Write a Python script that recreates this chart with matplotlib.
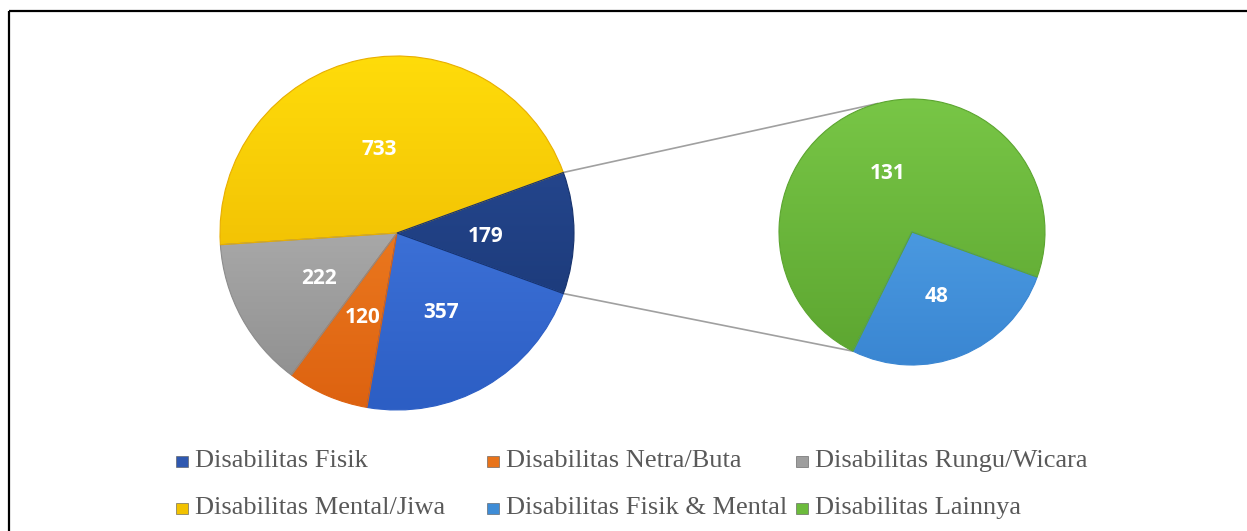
import numpy as np
import matplotlib
matplotlib.use("Agg")
import matplotlib.pyplot as plt
from matplotlib.colors import LinearSegmentedColormap
from matplotlib.patches import Rectangle

# ---------------- data ----------------
categories = ["Disabilitas Fisik", "Disabilitas Netra/Buta", "Disabilitas Rungu/Wicara",
              "Disabilitas Mental/Jiwa", "Disabilitas Fisik & Mental", "Disabilitas Lainnya"]
values = [357, 120, 222, 733, 48, 131]
n_main = 4                       # first four in main pie, the rest go to the secondary pie
main_values = values[:n_main] + [sum(values[n_main:])]
sec_values = values[n_main:]

# gradient colours (top, bottom) per category
grad_colors = {
    "Disabilitas Fisik": ("#4C82E8", "#2C5EC4"),
    "Disabilitas Netra/Buta": ("#F88D2C", "#DD6210"),
    "Disabilitas Rungu/Wicara": ("#C4C4C4", "#8C8C8C"),
    "Disabilitas Mental/Jiwa": ("#FFDC0A", "#E8AE00"),
    "Disabilitas Fisik & Mental": ("#5AACEE", "#3A86D2"),
    "Disabilitas Lainnya": ("#78C646", "#5CA530"),
    "Other": ("#2A4E9A", "#17336E"),
}
legend_colors = ["#2F58B0", "#E8731A", "#9E9E9E", "#F2C200", "#3E8CD6", "#6CBB3C"]

W, H = 1247, 531
fig = plt.figure(figsize=(W / 100, H / 100), dpi=100)
ax = fig.add_axes([0, 0, 1, 1])


def py(y):
    return H - y


main_c, main_r = (397, py(233)), 177
sec_c, sec_r = (912, py(232)), 133

wm, _ = ax.pie(main_values, center=main_c, radius=main_r, startangle=340,
               counterclock=False, wedgeprops=dict(linewidth=0.8))
ws, _ = ax.pie(sec_values, center=sec_c, radius=sec_r, startangle=340.2,
               counterclock=False, wedgeprops=dict(linewidth=0.8))

main_names = categories[:n_main] + ["Other"]
sec_names = categories[n_main:]


def fill_grad(wedges, names, c, r, vals):
    grad = np.linspace(0, 1, 256).reshape(-1, 1)
    for w, nm, v in zip(wedges, names, vals):
        top, bot = grad_colors[nm]
        cmap = LinearSegmentedColormap.from_list(nm, [top, bot])
        w.set_facecolor("none")
        w.set_edgecolor(bot)
        w.set_zorder(3)
        im = ax.imshow(grad, cmap=cmap, extent=[c[0] - r, c[0] + r, c[1] - r, c[1] + r],
                       origin="upper", aspect="auto", zorder=2, interpolation="bilinear")
        im.set_clip_path(w)
        ang = np.deg2rad((w.theta1 + w.theta2) / 2)
        ax.text(c[0] + 0.5 * r * np.cos(ang), c[1] + 0.5 * r * np.sin(ang) - 3, f"{v}",
                ha="center", va="center", color="white", fontsize=15,
                fontweight="bold", family="Open Sans", zorder=5)


fill_grad(wm, main_names, main_c, main_r, main_values)
fill_grad(ws, sec_names, sec_c, sec_r, sec_values)

# connector lines between the "Other" slice and the secondary pie
other = wm[-1]
a1, a2 = np.deg2rad(other.theta1), np.deg2rad(other.theta2)
p_main = [(main_c[0] + main_r * np.cos(a), main_c[1] + main_r * np.sin(a)) for a in (a2, a1)]
b_top, b_bot = np.deg2rad(105), np.deg2rad(ws[0].theta1)
p_sec = [(sec_c[0] + sec_r * np.cos(b_top), sec_c[1] + sec_r * np.sin(b_top)),
         (sec_c[0] + sec_r * np.cos(b_bot), sec_c[1] + sec_r * np.sin(b_bot))]
for pm, ps in zip(p_main, p_sec):
    ax.plot([pm[0], ps[0]], [pm[1], ps[1]], color="#A0A0A0", lw=1.2, zorder=1)

# legend (manual, Excel-like equal columns)
col_x = [176, 487, 796]
row_y = [467, 514]
for i, (cat, col) in enumerate(zip(categories, legend_colors)):
    r_, c_ = divmod(i, 3)
    x0, yb = col_x[c_], row_y[r_]
    ax.add_patch(Rectangle((x0, py(yb)), 12, 11, facecolor=col, edgecolor="#555555",
                           lw=0.4, zorder=4))
    ax.text(x0 + 19, py(yb), cat, ha="left", va="baseline", fontsize=19,
            family="Liberation Serif", color="#595959")

# frame (top and left)
ax.plot([9, W], [py(11), py(11)], color="black", lw=1.6, solid_capstyle="butt")
ax.plot([9, 9], [py(11), 0], color="black", lw=1.6, solid_capstyle="butt")

ax.set_xlim(0, W)
ax.set_ylim(0, H)
ax.set_aspect("auto")
ax.axis("off")
fig.savefig("out.png", dpi=100, facecolor="white")
